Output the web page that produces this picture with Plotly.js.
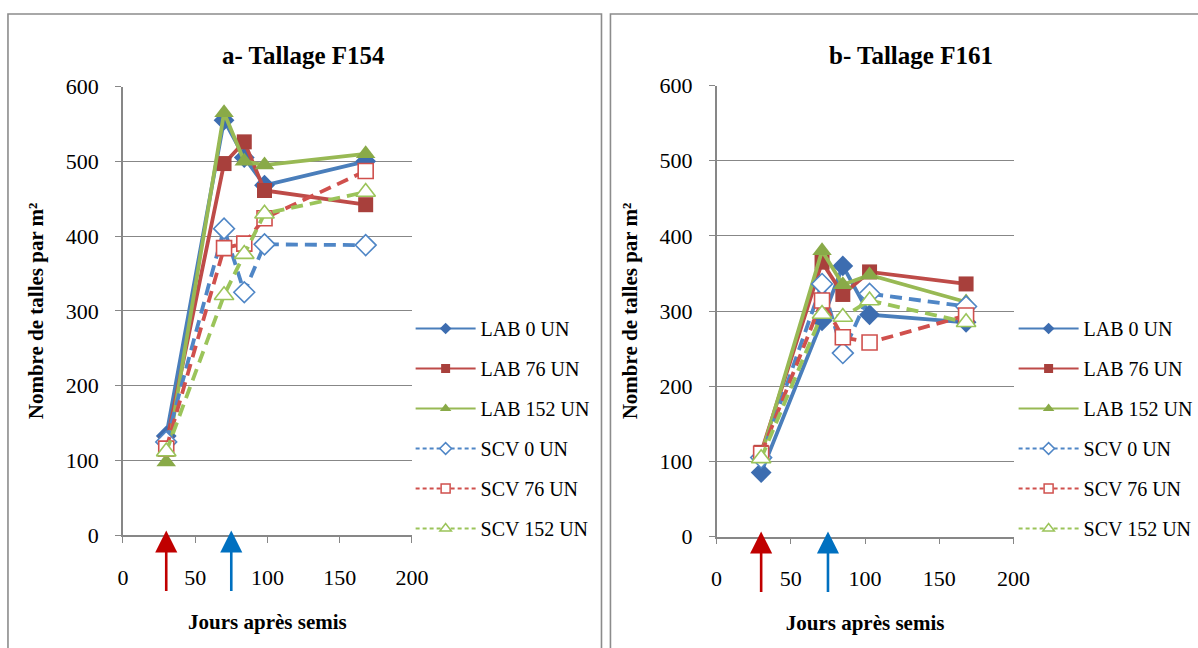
<!DOCTYPE html>
<html><head><meta charset="utf-8">
<script src="https://cdn.plot.ly/plotly-3.0.1.min.js"></script>
</head><body style="margin:0">
<div id="chart" style="width:1198px;height:648px"></div>
<script>
// ---- data ----
const seriesNames = ['LAB 0 UN', 'LAB 76 UN', 'LAB 152 UN', 'SCV 0 UN', 'SCV 76 UN', 'SCV 152 UN'];
const daysF154 = [30, 70, 84, 98, 168];
const daysF161 = [30, 71, 85, 103, 168];
const f154_LAB0   = [133, 555, 505, 468, 500];
const f154_LAB76  = [122, 497, 526, 461, 442];
const f154_LAB152 = [98, 565, 500, 495, 510];
const f154_SCV0   = [125, 410, 325, 389, 388];
const f154_SCV76  = [116, 384, 390, 424, 487];
const f154_SCV152 = [112, 321, 376, 430, 459];
const f161_LAB0   = [85, 287, 360, 295, 285];
const f161_LAB76  = [112, 365, 322, 352, 336];
const f161_LAB152 = [108, 380, 335, 348, 312];
const f161_SCV0   = [105, 336, 244, 323, 306];
const f161_SCV76  = [110, 314, 265, 258, 294];
const f161_SCV152 = [104, 296, 292, 314, 285];
const fertilisationDays = [30, 75];
const panelTitles = ['a- Tallage F154', 'b- Tallage F161'];
const xTitle = 'Jours après semis';
const yTitle = 'Nombre de talles par m²';

// ---- styles ----
const W = 1198, H = 648;
const fam = 'Times New Roman';
const styles = [
  {line: '#4A7EBB', mk: '#3D6DB0', sym: 'diamond', size: 16, dash: 'solid', open: false},
  {line: '#BE4B48', mk: '#A8403C', sym: 'square', size: 15, dash: 'solid', open: false},
  {line: '#98B954', mk: '#89AA48', sym: 'triangle-up', size: 17, dash: 'solid', open: false},
  {line: '#4F86C6', mk: '#4F86C6', sym: 'diamond', size: 16, dash: '12px,7px', open: true},
  {line: '#D0504D', mk: '#D0504D', sym: 'square', size: 15, dash: '12px,7px', open: true},
  {line: '#9BC45A', mk: '#9BC45A', sym: 'triangle-up', size: 17, dash: '12px,7px', open: true}
];
const f154 = [f154_LAB0, f154_LAB76, f154_LAB152, f154_SCV0, f154_SCV76, f154_SCV152];
const f161 = [f161_LAB0, f161_LAB76, f161_LAB152, f161_SCV0, f161_SCV76, f161_SCV152];

const traces = [];
function addPanel(days, sets, xa, ya, leg) {
  sets.forEach((vals, i) => {
    const s = styles[i];
    traces.push({
      type: 'scatter', mode: 'lines+markers', x: days, y: vals, xaxis: xa, yaxis: ya,
      name: seriesNames[i], showlegend: false, cliponaxis: false,
      line: {color: s.line, width: 3.8, dash: s.dash},
      marker: {symbol: s.sym, size: s.size, color: s.open ? '#ffffff' : s.mk,
               line: {color: s.mk, width: s.open ? 1.6 : 0}}
    });
  });
  // legend-only entries (thin lines, small markers)
  seriesNames.forEach((nm, i) => {
    const s = styles[i];
    traces.push({
      type: 'scatter', mode: 'lines+markers', x: [null], y: [null], xaxis: xa, yaxis: ya,
      name: nm, legend: leg, legendgroup: leg + i, showlegend: true, hoverinfo: 'skip',
      line: {color: s.line, width: 2, dash: s.open ? '4px,3px' : 'solid'},
      marker: {symbol: s.sym, size: s.sym === 'triangle-up' ? 10 : 9,
               color: s.open ? '#ffffff' : s.mk, line: {color: s.mk, width: s.open ? 1.5 : 0}}
    });
  });
}
addPanel(daysF154, f154, 'x', 'y', 'legend');
addPanel(daysF161, f161, 'x2', 'y2', 'legend2');

const gray = '#878787';
function yAxis(dom, anchor) {
  return {domain: dom, anchor: anchor, range: [0, 600], dtick: 100, showgrid: true, gridcolor: gray,
    gridwidth: 1.3, showline: true, linecolor: gray, linewidth: 1.5, ticks: 'outside', ticklen: 6,
    tickcolor: gray, tickwidth: 1.3, zeroline: false, ticklabelstandoff: 12,
    tickfont: {family: fam, size: 22},
    title: {text: '<b>' + yTitle + '</b>', font: {family: fam, size: 21}, standoff: 16}};
}
function xAxis(dom, anchor) {
  return {domain: dom, anchor: anchor, range: [0, 200], dtick: 50, showgrid: false, showline: true,
    linecolor: gray, linewidth: 1.5, ticks: 'outside', ticklen: 6, tickcolor: gray, tickwidth: 1.3,
    zeroline: false, ticklabelstandoff: 15, tickfont: {family: fam, size: 22},
    title: {text: '<b>' + xTitle + '</b>', font: {family: fam, size: 21}, standoff: 26}};
}

const arrowColors = ['#C00000', '#0070C0'];
const annotations = [];
[['x', 'y'], ['x2', 'y2']].forEach(([xa, ya]) => {
  fertilisationDays.forEach((d, i) => {
    annotations.push({x: d, y: 0, xref: xa, yref: ya, text: '', showarrow: true, ax: 0, ay: 62,
      yshift: 5, arrowcolor: arrowColors[i], arrowwidth: 2.6, arrowhead: 2, arrowsize: 1.7, standoff: 0});
  });
});
annotations.push({x: 305 / W, y: 1 - 55 / H, xref: 'paper', yref: 'paper', xanchor: 'center',
  yanchor: 'middle', showarrow: false,
  text: '<b>' + panelTitles[0] + '</b>', font: {family: fam, size: 25}});
annotations.push({x: 914 / W, y: 1 - 55 / H, xref: 'paper', yref: 'paper', xanchor: 'center',
  yanchor: 'middle', showarrow: false,
  text: '<b>' + panelTitles[1] + '</b>', font: {family: fam, size: 25}});

const shapes = [
  {type: 'rect', xref: 'paper', yref: 'paper', x0: 8 / W, x1: 603.5 / W, y0: -0.05, y1: 1 - 14 / H,
   line: {color: '#8c8c8c', width: 1.6}},
  {type: 'rect', xref: 'paper', yref: 'paper', x0: 612.5 / W, x1: 1.05, y0: -0.05, y1: 1 - 14 / H,
   line: {color: '#8c8c8c', width: 1.6}}
];

const legendBase = {xanchor: 'left', yanchor: 'top', y: 1 - 309 / H, bgcolor: 'rgba(0,0,0,0)',
  font: {family: fam, size: 20}, tracegroupgap: 11, itemwidth: 60};

const layout = {
  width: W, height: H, margin: {l: 0, r: 0, t: 0, b: 0}, paper_bgcolor: '#fff', plot_bgcolor: 'rgba(0,0,0,0)',
  showlegend: true,
  font: {family: fam, color: '#000000'},
  xaxis: xAxis([123.3 / W, 413.3 / W], 'y'),
  yaxis: yAxis([1 - 535.4 / H, 1 - 86.5 / H], 'x'),
  xaxis2: xAxis([719 / W, 1017 / W], 'y2'),
  yaxis2: yAxis([1 - 536.5 / H, 1 - 85.5 / H], 'x2'),
  legend: Object.assign({x: 412 / W}, legendBase),
  legend2: Object.assign({x: 1017 / W}, legendBase),
  annotations: annotations, shapes: shapes
};
Plotly.newPlot('chart', traces, layout, {displayModeBar: false});
</script></body></html>
